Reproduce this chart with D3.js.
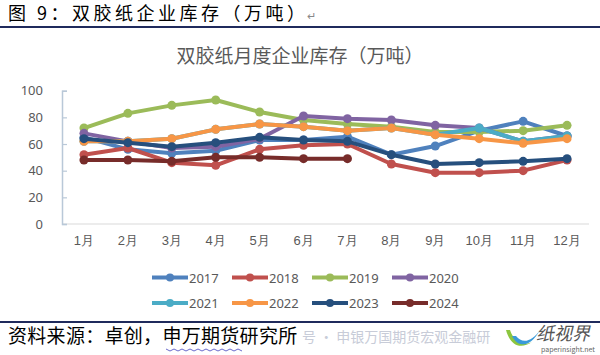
<!DOCTYPE html>
<html><head><meta charset="utf-8">
<script src="https://cdn.jsdelivr.net/npm/d3@7/dist/d3.min.js"></script>
<style>
html,body{margin:0;padding:0;background:#fff;}
svg{display:block;font-family:"Noto Sans CJK SC","Noto Sans",sans-serif;}
</style></head>
<body>
<svg id="c" width="600" height="355"></svg>
<script>
const months = ["1月","2月","3月","4月","5月","6月","7月","8月","9月","10月","11月","12月"];
const yTicks = [0,20,40,60,80,100];
const seriesNames = ["2017","2018","2019","2020","2021","2022","2023","2024"];
const colors = ["#4f81bd","#c0504d","#9bbb59","#8064a2","#4bacc6","#f79646","#264f7d","#772c2a"];
const v2017 = [65, 56, 53, 55, 63, 63, 65.5, 52, 58.5, 70, 77, 66];
const v2018 = [52, 57, 46, 44, 56, 59, 60, 45, 38.5, 38.5, 40, 48];
const v2019 = [72, 83, 89, 93, 84, 78, 75, 73, 69, 69, 70, 74];
const v2020 = [68, 62, 57, 58, 64, 81, 79, 78, 74, 72, 62, 66];
const v2021 = [62, 62, 64, 71, 75, 73, 70, 72, 67, 72, 62, 66];
const v2022 = [62, 62, 64, 71, 75, 73, 70, 72, 67, 64, 60.5, 64];
const v2023 = [64, 61, 58, 61, 65, 63, 62, 52, 45, 46, 47, 49];
const v2024 = [48, 48, 47, 50, 50, 49, 49];
const allValues = [v2017,v2018,v2019,v2020,v2021,v2022,v2023,v2024];

const svg = d3.select("#c");
const grey = "#595959";

// header
svg.append("text").attr("x",8).attr("y",20).attr("font-size",18).attr("fill","#000")
  .attr("letter-spacing",3.5).text("图 9：双胶纸企业库存（万吨）");
svg.append("text").attr("x",307).attr("y",20).attr("font-size",11).attr("fill","#888").text("↵");
svg.append("rect").attr("x",0).attr("y",26).attr("width",600).attr("height",2).attr("fill","#1f2a5c");

// chart title
svg.append("text").attr("x",300).attr("y",63).attr("text-anchor","middle").attr("font-size",19)
  .attr("fill",grey).text("双胶纸月度企业库存（万吨）");

const x = d3.scaleBand().domain(months).range([62,589]);
const y = d3.scaleLinear().domain([0,100]).range([224,90.7]);

// baseline
svg.append("line").attr("x1",62).attr("x2",589).attr("y1",y(0)).attr("y2",y(0))
  .attr("stroke","#d9d9d9").attr("stroke-width",1);

// y axis
const ya = svg.append("g").attr("transform","translate(62,0)")
  .call(d3.axisRight(y).tickValues(yTicks).tickSize(5).tickFormat(d3.format("d")));
ya.select(".domain").attr("stroke","#b9c8d8").attr("stroke-width",1.5);
ya.selectAll(".tick line").attr("stroke","#b9c8d8").attr("stroke-width",1.2);
ya.selectAll(".tick text").attr("x",-19).attr("text-anchor","end").attr("font-size",13)
  .attr("fill",grey).attr("font-family","'Noto Sans',sans-serif");

// x axis labels
const xa = svg.append("g").attr("transform",`translate(0,${y(0)})`)
  .call(d3.axisBottom(x).tickSize(0).tickPadding(12));
xa.select(".domain").remove();
xa.selectAll(".tick text").attr("font-size",13).attr("fill",grey);

// lines
const line = d3.line().x((d,i)=>x(months[i])+x.bandwidth()/2).y(d=>y(d));
allValues.forEach((vals,k)=>{
  const g = svg.append("g");
  g.append("path").datum(vals).attr("d",line).attr("fill","none")
    .attr("stroke",colors[k]).attr("stroke-width",4).attr("stroke-linejoin","round").attr("stroke-linecap","round");
  g.selectAll("circle").data(vals).join("circle")
    .attr("cx",(d,i)=>x(months[i])+x.bandwidth()/2).attr("cy",d=>y(d)).attr("r",4.5)
    .attr("fill",colors[k]);
});

// legend
seriesNames.forEach((n,k)=>{
  const col = k%4, row = Math.floor(k/4);
  const lx = 152 + col*80, ly = 277.5 + row*25.5;
  const g = svg.append("g");
  g.append("line").attr("x1",lx).attr("x2",lx+36).attr("y1",ly).attr("y2",ly)
    .attr("stroke",colors[k]).attr("stroke-width",4);
  g.append("circle").attr("cx",lx+18).attr("cy",ly).attr("r",4).attr("fill",colors[k]);
  g.append("text").attr("x",lx+37).attr("y",ly+5).attr("font-size",13).attr("fill",grey)
    .attr("font-family","'Noto Sans',sans-serif").text(n);
});

// footer
svg.append("rect").attr("x",0).attr("y",321).attr("width",600).attr("height",2).attr("fill","#1f2a5c");
svg.append("text").attr("x",302).attr("y",342).attr("font-size",14).attr("fill","#c8ccd8")
  .text("号 · 申银万国期货宏观金融研");
svg.append("text").attr("x",8).attr("y",343).attr("font-size",19).attr("fill","#000")
  .attr("letter-spacing",0.3).text("资料来源：卓创，申万期货研究所");
svg.append("path").attr("d",d3.range(0,20).map((i)=>`${i===0?"M":"L"}${166+i*4},${349+(i%2?2:0)}`).join(""))
  .attr("fill","none").attr("stroke","#6a6acb").attr("stroke-width",1);
// logo
svg.append("path").attr("d","M506,330 C510,345 520,350 532,342 C524,346 514,342 510,330 Z").attr("fill","#8cc63f");
svg.append("path").attr("d","M512,336 C518,348 530,348 540,330 C532,342 522,344 516,336 Z").attr("fill","#3a9ad9");
svg.append("text").attr("x",563).attr("y",340).attr("text-anchor","middle").attr("font-size",18)
  .attr("fill","#555").attr("font-style","italic").text("纸视界");
svg.append("text").attr("x",568).attr("y",352).attr("text-anchor","middle").attr("font-size",7)
  .attr("fill","#666").text("paperinsight.net");
</script>
</body></html>
